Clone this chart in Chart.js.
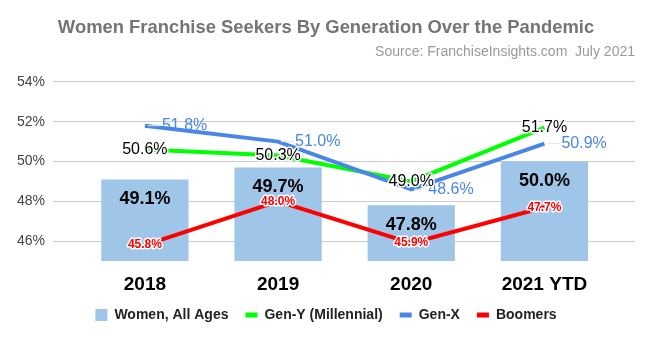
<!DOCTYPE html>
<html>
<head>
<meta charset="utf-8">
<script src="https://cdn.jsdelivr.net/npm/chart.js@4"></script>
<style>
  html, body { margin: 0; padding: 0; background: #fff; }
  #wrap { width: 651px; height: 339px; }
</style>
</head>
<body>
<div id="wrap"><canvas id="chart" width="651" height="339"></canvas></div>
<script>
const categories = ["2018", "2019", "2020", "2021 YTD"];
const womenAll = [49.1, 49.7, 47.8, 50.0];
const genY = [50.6, 50.3, 49.0, 51.7];
const genX = [51.8, 51.0, 48.6, 50.9];
const boomers = [45.8, 48.0, 45.9, 47.7];
const yTicks = [46, 48, 50, 52, 54];

const FONT = "'Liberation Sans', Arial, sans-serif";

const toPoints = (arr) => arr.map((v, i) => ({ x: i, y: v }));
const pct = (v) => v.toFixed(1) + "%";

// fixed legend height so the plot area lands where the original has it
const legendHeight = {
  id: "legendHeight",
  beforeInit(chart) {
    const fit = chart.legend.fit;
    chart.legend.fit = function () {
      fit.call(this);
      this.height = 41;
    };
  },
};

// draws the value labels on bars and lines
const valueLabels = {
  id: "valueLabels",
  afterDatasetsDraw(chart) {
    const ctx = chart.ctx;
    const styles = {
      "Women, All Ages": { font: "bold 18px " + FONT, color: "#000", halo: 0, where: "barTop" },
      "Gen-X": { font: "16px " + FONT, color: "#4a86e8", halo: 0, where: "right" },
      "Gen-Y (Millennial)": { font: "16px " + FONT, color: "#000", halo: 3, where: "center" },
      Boomers: { font: "bold 12px " + FONT, color: "#ff0000", halo: 3, where: "center" },
    };
    const drawOrder = ["Women, All Ages", "Gen-X", "Gen-Y (Millennial)", "Boomers"];
    drawOrder.forEach((name) => {
      const idx = chart.data.datasets.findIndex((d) => d.label === name);
      const ds = chart.data.datasets[idx];
      const meta = chart.getDatasetMeta(idx);
      const st = styles[name];
      meta.data.forEach((el, i) => {
        const text = pct(ds.data[i].y);
        let x = el.x;
        let y = el.y;
        ctx.save();
        ctx.font = st.font;
        ctx.textBaseline = "middle";
        ctx.textAlign = "center";
        if (st.where === "barTop") {
          y = el.y + 20;
        } else if (st.where === "right") {
          ctx.strokeStyle = "#e6e6e6";
          ctx.lineWidth = 1;
          ctx.beginPath();
          ctx.moveTo(x + 3, y);
          ctx.lineTo(x + 16, y);
          ctx.stroke();
          ctx.textAlign = "left";
          x = x + 17;
        }
        if (st.halo) {
          ctx.strokeStyle = "#fff";
          ctx.lineWidth = st.halo;
          ctx.lineJoin = "round";
          ctx.strokeText(text, x, y);
        }
        ctx.fillStyle = st.color;
        ctx.fillText(text, x, y);
        ctx.restore();
      });
    });
  },
};

new Chart(document.getElementById("chart"), {
  type: "bar",
  data: {
    datasets: [
      {
        type: "bar",
        label: "Women, All Ages",
        data: toPoints(womenAll),
        backgroundColor: "#9fc5e8",
        barPercentage: 0.655,
        categoryPercentage: 1,
        order: 4,
      },
      {
        type: "line",
        label: "Gen-Y (Millennial)",
        data: toPoints(genY),
        borderColor: "#00ff00",
        backgroundColor: "#00ff00",
        borderWidth: 4,
        pointRadius: 0,
        order: 3,
      },
      {
        type: "line",
        label: "Gen-X",
        data: toPoints(genX),
        borderColor: "#4a86e8",
        backgroundColor: "#4a86e8",
        borderWidth: 4,
        pointRadius: 0,
        order: 2,
      },
      {
        type: "line",
        label: "Boomers",
        data: toPoints(boomers),
        borderColor: "#ff0000",
        backgroundColor: "#ff0000",
        borderWidth: 4,
        pointRadius: 0,
        order: 1,
      },
    ],
  },
  options: {
    responsive: false,
    animation: false,
    layout: {
      padding: { top: 17, left: 17, right: 16, bottom: 7 },
    },
    plugins: {
      title: {
        display: true,
        text: "Women Franchise Seekers By Generation Over the Pandemic",
        color: "#757575",
        font: { family: FONT, size: 18.4, weight: "bold" },
        padding: { top: 0, bottom: 5 },
      },
      subtitle: {
        display: true,
        text: "Source: FranchiseInsights.com  July 2021",
        align: "end",
        color: "#999999",
        font: { family: FONT, size: 14 },
        padding: { top: 0, bottom: 21 },
      },
      legend: {
        position: "bottom",
        labels: {
          usePointStyle: true,
          pointStyleWidth: 12,
          boxWidth: 12,
          boxHeight: 12,
          padding: 17,
          color: "#222",
          font: { family: FONT, size: 14, weight: "bold" },
          generateLabels(chart) {
            return chart.data.datasets.map((ds, i) => ({
              text: ds.label,
              fillStyle: ds.type === "bar" ? ds.backgroundColor : ds.borderColor,
              strokeStyle: ds.type === "bar" ? ds.backgroundColor : ds.borderColor,
              lineWidth: ds.type === "bar" ? 0 : 5,
              pointStyle: ds.type === "bar" ? "rect" : "line",
              fontColor: "#222",
              hidden: false,
              datasetIndex: i,
            }));
          },
        },
      },
      tooltip: { enabled: false },
    },
    scales: {
      x: {
        type: "linear",
        offset: false,
        min: -0.69,
        max: 3.68,
        afterBuildTicks(axis) {
          axis.ticks = categories.map((c, i) => ({ value: i }));
        },
        afterFit(axis) {
          axis.height = 30;
        },
        ticks: {
          callback: (v) => categories[v],
          color: "#000",
          font: { family: FONT, size: 19, weight: "bold" },
          padding: 12,
          maxRotation: 0,
          autoSkip: false,
        },
        grid: { display: false, offset: false, drawTicks: false },
        border: { display: false },
      },
      y: {
        min: 45,
        max: 54,
        afterBuildTicks(axis) {
          axis.ticks = yTicks.map((v) => ({ value: v }));
        },
        afterFit(axis) {
          axis.width = 36;
        },
        ticks: {
          callback: (v) => v + "%",
          color: "#444",
          font: { family: FONT, size: 14 },
          padding: 8,
        },
        grid: { color: "#cccccc", drawTicks: false },
        border: { display: false },
      },
    },
  },
  plugins: [legendHeight, valueLabels],
});
</script>
</body>
</html>
